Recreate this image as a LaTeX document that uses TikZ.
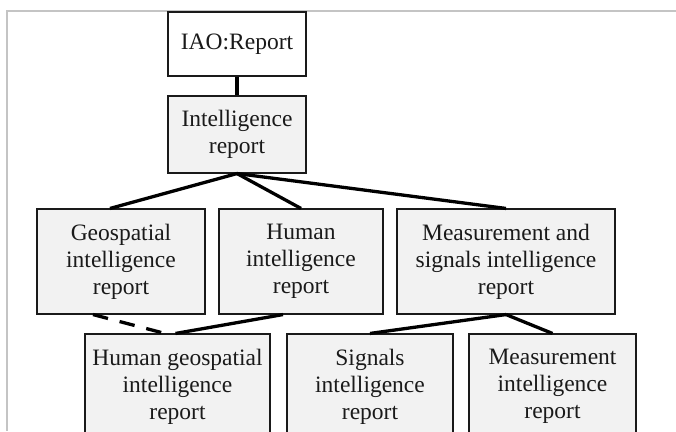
\documentclass[tikz,border=0pt]{standalone}
\usepackage{fontspec}
\setmainfont{Liberation Serif}
\usetikzlibrary{positioning}
\definecolor{reportink}{HTML}{1A1A1A}
\definecolor{reportfill}{HTML}{F2F2F2}
\definecolor{frameline}{HTML}{C4C4C4}
\tikzset{
  reportbox/.style={draw=reportink, fill=reportfill, line width=1.1pt,
    align=center, inner sep=0pt, text=reportink,
    font=\fontsize{23.5}{27}\selectfont},
  rootbox/.style={reportbox, fill=white},
  treeline/.style={draw=black, line width=3.3pt},
  guessline/.style={treeline, dash pattern=on 15.5pt off 12pt}
}
\begin{document}
\begin{tikzpicture}[x=1pt,y=-1pt]
  \clip (0,0) rectangle (676,431);
  \fill[white] (0,0) rectangle (676,431);
  \draw[frameline, line width=1.5pt] (676,11) -- (7,11) -- (7,431);

  \node[rootbox, minimum width=138pt, minimum height=64pt]
    (iao) at (237,44) {IAO:Report};
  \node[reportbox, minimum width=138pt, minimum height=77pt]
    (intel) at (237,134.5) {Intelligence\\report};

  \node[reportbox, minimum width=168pt, minimum height=105pt]
    (geoint) at (121,261.5) {Geospatial\\intelligence\\report};
  \node[reportbox, minimum width=164pt, minimum height=105pt]
    (humint) at (301,261.5) {Human\\intelligence\\report};
  \node[reportbox, minimum width=218pt, minimum height=105pt]
    (masint) at (506,261.5) {Measurement and\\signals intelligence\\report};

  \node[reportbox, minimum width=185pt, minimum height=105pt]
    (humgeo) at (177.5,386.5) {Human geospatial\\intelligence\\report};
  \node[reportbox, minimum width=166pt, minimum height=105pt]
    (sigint) at (370,386.5) {Signals\\intelligence\\report};
  \node[reportbox, minimum width=167pt, minimum height=105pt]
    (measint) at (552.5,386.5) {Measurement\\intelligence\\report};

  \draw[treeline] (iao.south) -- (intel.north);
  \draw[treeline] (intel.south) -- ([xshift=-11pt]geoint.north);
  \draw[treeline] (intel.south) -- (humint.north);
  \draw[treeline] (intel.south) -- (masint.north);
  \draw[guessline] ([xshift=-28pt]geoint.south) -- ([xshift=-12.5pt]humgeo.north);
  \draw[treeline] ([xshift=-18pt]humint.south) -- ([xshift=-2pt]humgeo.north);
  \draw[treeline] (masint.south) -- (sigint.north);
  \draw[treeline] (masint.south) -- (measint.north);
\end{tikzpicture}
\end{document}
